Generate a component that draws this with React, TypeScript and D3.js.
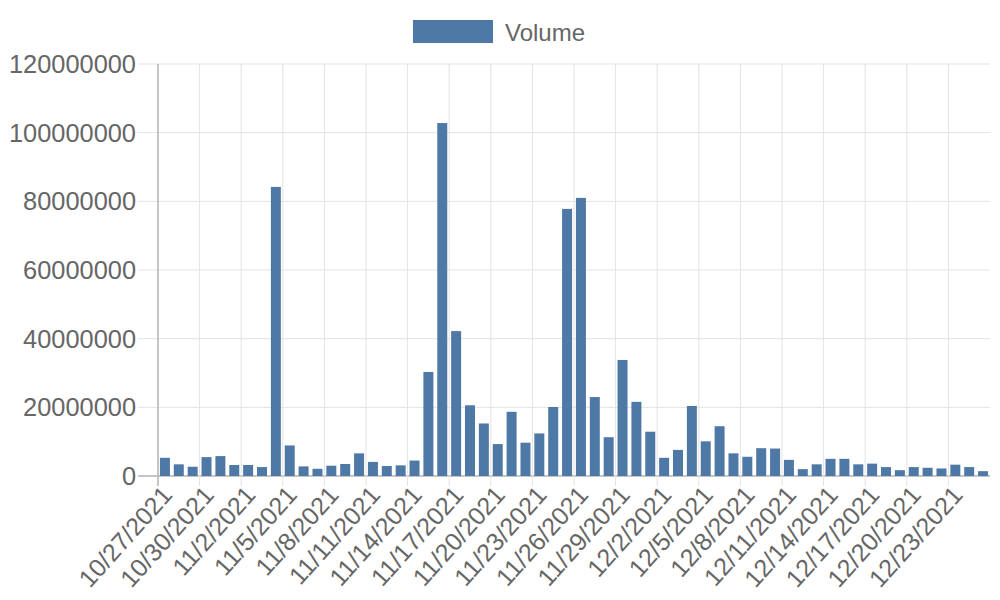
import React from "react";
import * as d3 from "d3";

const startDate = new Date(2021, 9, 27);
const volumes: number[] = [
  5.3, 3.4, 2.7, 5.5, 5.8, 3.2, 3.2, 2.6, 84.2, 8.9,
  2.8, 2.1, 3.0, 3.5, 6.6, 4.1, 2.9, 3.1, 4.5, 30.3,
  102.8, 42.2, 20.6, 15.3, 9.3, 18.7, 9.7, 12.4, 20.1, 77.8,
  81.0, 23.0, 11.3, 33.8, 21.6, 12.9, 5.3, 7.6, 20.4, 10.1,
  14.5, 6.6, 5.6, 8.1, 8.0, 4.7, 2.0, 3.4, 5.0, 5.0,
  3.4, 3.6, 2.6, 1.7, 2.6, 2.4, 2.2, 3.3, 2.6, 1.4,
].map((v) => v * 1e6);
const categories: string[] = volumes.map((_, i) => {
  const d = new Date(startDate.getTime());
  d.setDate(d.getDate() + i);
  return `${d.getMonth() + 1}/${d.getDate()}/${d.getFullYear()}`;
});
const yTicks: number[] = [0, 20000000, 40000000, 60000000, 80000000, 100000000, 120000000];
const seriesName = "Volume";

export default function App() {
  const W = 1000, H = 600;
  const left = 158, right = 990, top = 64, bottom = 476;
  const x = d3.scaleBand<string>().domain(categories).range([left, right]).paddingInner(0).paddingOuter(0);
  const y = d3.scaleLinear().domain([0, 120000000]).range([bottom, top]);
  const bw = x.bandwidth();
  const barW = bw * 0.72;
  const color = "#4e79a7";
  const font = "Liberation Sans, Arial, sans-serif";
  const labelIdx = categories.map((_, i) => i).filter((i) => i % 3 === 0);
  return (
    <svg width={W} height={H} style={{ position: "absolute", left: 0, top: 0 }} fontFamily={font}>
      {/* legend */}
      <rect x={413} y={20} width={80} height={23} fill={color} />
      <text x={505} y={32} dominantBaseline="central" fontSize={24} fill="#666">{seriesName}</text>
      {/* horizontal grid */}
      {yTicks.map((t) => (
        <g key={t}>
          <line x1={138} x2={right} y1={y(t)} y2={y(t)} stroke={t === 0 ? "#b3b3b3" : "#e3e3e3"} strokeWidth={t === 0 ? 1.5 : 1} />
          <text x={136} y={y(t)} textAnchor="end" dominantBaseline="central" fontSize={25.4} fill="#666">{t}</text>
        </g>
      ))}
      {/* vertical grid */}
      {labelIdx.map((i) => {
        const gx = x(categories[i])!;
        return (
          <line key={i} x1={gx} x2={gx} y1={top} y2={bottom + 10} stroke={i === 0 ? "#b3b3b3" : "#e3e3e3"} strokeWidth={i === 0 ? 1.5 : 1} />
        );
      })}
      {/* bars */}
      {volumes.map((v, i) => (
        <rect key={i} x={x(categories[i])! + (bw - barW) / 2} y={y(v)} width={barW} height={bottom - y(v)} fill={color} />
      ))}
      {/* x labels */}
      {labelIdx.map((i) => {
        const cx = x(categories[i])! + bw / 2 + 2;
        return (
          <text key={i} transform={`translate(${cx},${bottom + 14}) rotate(-48)`} textAnchor="end" dominantBaseline="central" fontSize={25} fill="#666">
            {categories[i]}
          </text>
        );
      })}
    </svg>
  );
}
